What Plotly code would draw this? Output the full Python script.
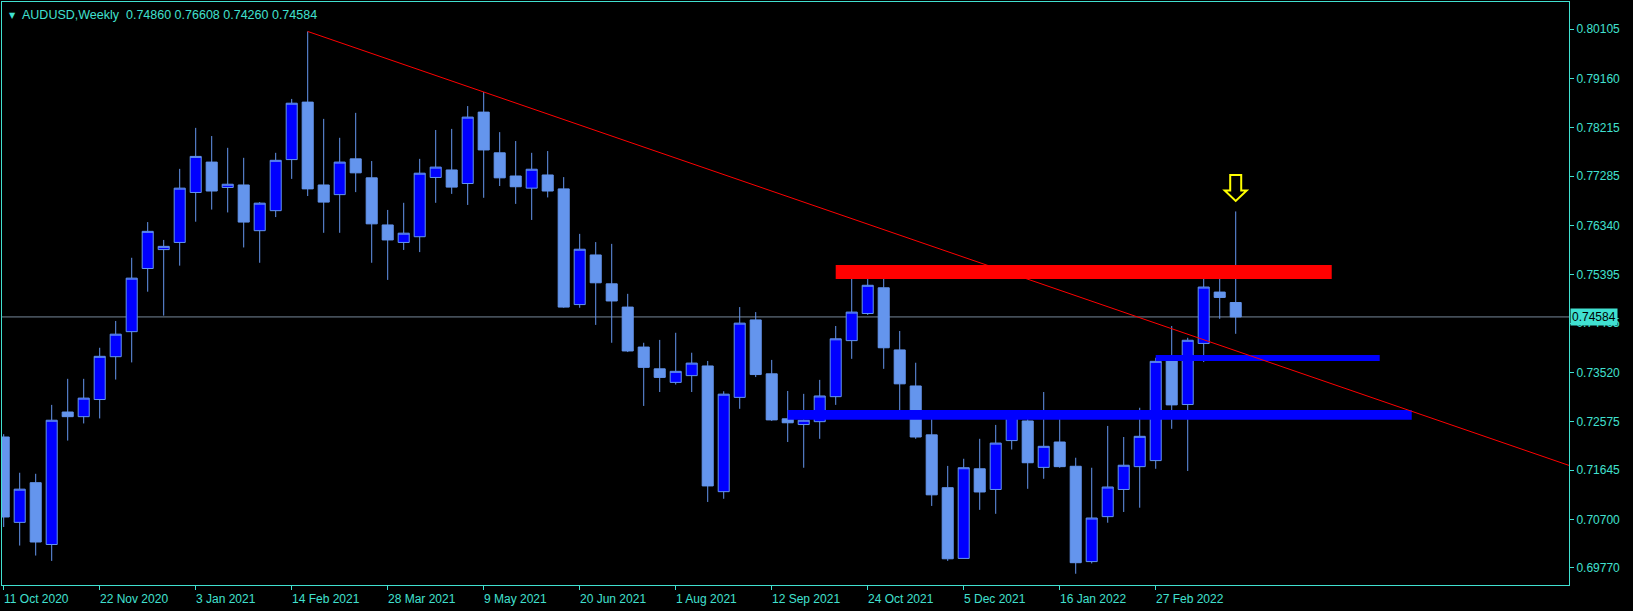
import pandas as pd
import plotly.graph_objects as go

# ---------------- data ----------------
start_date = "2020-10-11"
n_weeks = 78
dates = pd.date_range(start_date, periods=n_weeks, freq="7D")

opens = [
    0.72280, 0.70642, 0.71403, 0.70217, 0.72759, 0.72670, 0.72999, 0.73821, 0.74301, 0.75513,
    0.75876, 0.76013, 0.76972, 0.77555, 0.77068, 0.77116, 0.76239, 0.76623, 0.77603, 0.78706,
    0.77116, 0.76931, 0.77617, 0.77253, 0.76349, 0.76013, 0.76123, 0.77260, 0.77404, 0.77144,
    0.78514, 0.77733, 0.77288, 0.77055, 0.77308, 0.77041, 0.74821, 0.75773, 0.75219, 0.74773,
    0.74006, 0.73588, 0.73328, 0.73458, 0.73643, 0.71231, 0.73040, 0.74527, 0.73492, 0.72629,
    0.72519, 0.72574, 0.73054, 0.74129, 0.74650, 0.75143, 0.73951, 0.73259, 0.72321, 0.71307,
    0.69950, 0.71670, 0.71273, 0.72211, 0.72588, 0.71697, 0.72184, 0.71718, 0.69889, 0.70752,
    0.71273, 0.71711, 0.71827, 0.73759, 0.72903, 0.74075, 0.75061, 0.74860]

highs = [
    0.72334, 0.71594, 0.71574, 0.72896, 0.73396, 0.73396, 0.73992, 0.74506, 0.75719, 0.76404,
    0.76061, 0.77425, 0.78212, 0.78055, 0.77829, 0.77637, 0.76787, 0.77733, 0.78767, 0.80062,
    0.78384, 0.78021, 0.78500, 0.77575, 0.76637, 0.76774, 0.77617, 0.78171, 0.78192, 0.78630,
    0.78900, 0.78130, 0.77959, 0.77733, 0.77767, 0.77267, 0.76178, 0.76020, 0.75986, 0.75027,
    0.74088, 0.74143, 0.74280, 0.73897, 0.73739, 0.73157, 0.74773, 0.74677, 0.73759, 0.73163,
    0.73108, 0.73376, 0.74410, 0.75465, 0.75561, 0.75369, 0.74314, 0.73705, 0.72745, 0.71725,
    0.71862, 0.72245, 0.72512, 0.72780, 0.72780, 0.73143, 0.72759, 0.71882, 0.71690, 0.72492,
    0.72280, 0.72841, 0.73800, 0.74410, 0.74184, 0.75369, 0.75410, 0.76608]

lows = [
    0.70553, 0.70197, 0.70005, 0.69902, 0.72211, 0.72540, 0.72636, 0.73382, 0.73711, 0.75068,
    0.74609, 0.75568, 0.76411, 0.76644, 0.76589, 0.75917, 0.75623, 0.76500, 0.77233, 0.76904,
    0.76198, 0.76198, 0.76979, 0.75623, 0.75294, 0.75869, 0.75828, 0.76774, 0.76945, 0.76733,
    0.76870, 0.77096, 0.76753, 0.76445, 0.76877, 0.74760, 0.74760, 0.74431, 0.74088, 0.73910,
    0.72876, 0.73143, 0.73287, 0.73143, 0.71033, 0.71095, 0.72821, 0.73430, 0.72588, 0.72184,
    0.71690, 0.72245, 0.72896, 0.73780, 0.74622, 0.73588, 0.72745, 0.72245, 0.70957, 0.69902,
    0.69950, 0.70882, 0.70806, 0.72040, 0.71286, 0.71478, 0.71690, 0.69656, 0.69854, 0.70635,
    0.70841, 0.70923, 0.71670, 0.72437, 0.71628, 0.73718, 0.74547, 0.74260]

closes = [
    0.70745, 0.71279, 0.70265, 0.72602, 0.72670, 0.73026, 0.73828, 0.74253, 0.75328, 0.76226,
    0.75938, 0.77055, 0.77664, 0.77000, 0.77130, 0.76404, 0.76767, 0.77589, 0.78685, 0.77041,
    0.76787, 0.77555, 0.77349, 0.76370, 0.76061, 0.76191, 0.77342, 0.77459, 0.77075, 0.78418,
    0.77788, 0.77253, 0.77082, 0.77418, 0.77000, 0.74773, 0.75883, 0.75239, 0.74890, 0.73931,
    0.73616, 0.73424, 0.73540, 0.73698, 0.71341, 0.73102, 0.74465, 0.73478, 0.72608, 0.72553,
    0.72602, 0.73067, 0.74164, 0.74677, 0.75191, 0.73992, 0.73300, 0.72280, 0.71170, 0.69943,
    0.71690, 0.71225, 0.72163, 0.72698, 0.71786, 0.72101, 0.71711, 0.69868, 0.70725, 0.71320,
    0.71738, 0.72293, 0.73732, 0.72896, 0.74136, 0.75157, 0.74958, 0.74584]

price_ticks = [0.80105, 0.79160, 0.78215, 0.77285, 0.76340, 0.75395, 0.74465,
               0.73520, 0.72575, 0.71645, 0.70700, 0.69770]

date_ticks = ["2020-10-11", "2020-11-22", "2021-01-03", "2021-02-14", "2021-03-28",
              "2021-05-09", "2021-06-20", "2021-08-01", "2021-09-12", "2021-10-24",
              "2021-12-05", "2022-01-16", "2022-02-27"]

# zones drawn on the chart: (start, end, low price, high price)
red_zone = ("2021-10-10", "2022-05-15", 0.75313, 0.75582)
blue_zone_upper = ("2022-02-27", "2022-06-05", 0.73740, 0.73855)
blue_zone_lower = ("2021-09-19", "2022-06-19", 0.72609, 0.72800)

# trendline anchored on two swing highs
trend_anchor_idx = [19, 30]

symbol = "AUDUSD"
timeframe = "Weekly"

# ---------------- style ----------------
BG = "#000000"
FG = "#40E0D0"
BULL_FILL = "#0000FF"
BEAR_FILL = "#6495ED"
WICK = "#6495ED"
FONT = "Liberation Sans, Arial, sans-serif"

t0 = pd.Timestamp(start_date)
x_min = t0 - pd.Timedelta(days=0.106 * 7)
x_max = t0 + pd.Timedelta(days=97.83 * 7)
y_min, y_max = 0.69440, 0.80627

fig = go.Figure()
fig.add_trace(go.Candlestick(
    x=dates, open=opens, high=highs, low=lows, close=closes,
    increasing=dict(fillcolor=BULL_FILL, line=dict(color=WICK, width=1)),
    decreasing=dict(fillcolor=BEAR_FILL, line=dict(color=WICK, width=1)),
    whiskerwidth=0, hoverinfo="skip", showlegend=False,
))

shapes = []
# zones
for (zs, ze, zl, zh), col in [(blue_zone_lower, "#0000FF"), (blue_zone_upper, "#0000FF"),
                              (red_zone, "#FF0000")]:
    shapes.append(dict(type="rect", xref="x", yref="y", x0=zs, x1=ze, y0=zl, y1=zh,
                       fillcolor=col, line=dict(width=0), layer="above"))

# trendline (ray to the right edge)
ia, ib = trend_anchor_idx
ta, tb = dates[ia], dates[ib]
pa, pb = highs[ia], highs[ib]
slope = (pb - pa) / ((tb - ta).total_seconds())
p_end = pa + slope * (x_max - ta).total_seconds()
shapes.append(dict(type="line", xref="x", yref="y", x0=ta, y0=pa, x1=x_max, y1=p_end,
                   line=dict(color="#FF0000", width=1), layer="above"))

# current price line
shapes.append(dict(type="line", xref="paper", yref="y", x0=0, x1=1,
                   y0=closes[-1], y1=closes[-1],
                   line=dict(color="#778899", width=1), layer="below"))

# yellow hollow down-arrow above the last candle
shapes.append(dict(type="path", xref="x", yref="y", xsizemode="pixel", ysizemode="pixel",
                   xanchor=dates[-1], yanchor=highs[-1],
                   path="M -5.5 36.5 L 5.5 36.5 L 5.5 21 L 11 21 L 0 10.5 L -11 21 L -5.5 21 Z",
                   line=dict(color="#FFFF00", width=2), fillcolor="rgba(0,0,0,0)",
                   layer="above"))

annotations = []
# header
annotations.append(dict(xref="paper", yref="paper", x=0, y=1, xanchor="left", yanchor="top",
                        xshift=5, yshift=-7, text="\u25BC", showarrow=False,
                        font=dict(family="DejaVu Sans", size=8, color=FG)))
annotations.append(dict(
    xref="paper", yref="paper", x=0, y=1, xanchor="left", yanchor="top",
    xshift=18, yshift=-4, showarrow=False,
    text=f"{symbol},{timeframe}\u00a0\u00a0{opens[-1]:.5f} {highs[-1]:.5f} {lows[-1]:.5f} {closes[-1]:.5f}",
    font=dict(family=FONT, size=12.5, color=FG)))

# date labels (left-aligned to tick marks)
for d in date_ticks:
    dt = pd.Timestamp(d)
    annotations.append(dict(xref="x", yref="paper", x=dt, y=0, xanchor="left", yanchor="top",
                            xshift=-2, yshift=-5, showarrow=False,
                            text=f"{dt.day} {dt.strftime('%b %Y')}",
                            font=dict(family=FONT, size=12, color=FG)))

# current price tag
annotations.append(dict(xref="paper", yref="y", x=1, y=closes[-1], xanchor="left",
                        yanchor="middle", xshift=1, showarrow=False,
                        text=f"{closes[-1]:.5f}", bgcolor=FG, borderpad=1,
                        font=dict(family=FONT, size=12, color="#000000")))

fig.update_layout(
    width=1633, height=611,
    paper_bgcolor=BG, plot_bgcolor=BG,
    margin=dict(l=2, r=64, t=2, b=26),
    shapes=shapes, annotations=annotations,
    showlegend=False,
    boxgap=0.0, boxgroupgap=0.31,
    xaxis=dict(type="date", range=[x_min, x_max], rangeslider=dict(visible=False),
               showgrid=False, zeroline=False, showline=True, mirror=True,
               linecolor=FG, linewidth=1, tickvals=[pd.Timestamp(d) for d in date_ticks],
               ticks="outside", ticklen=4, tickcolor=FG, showticklabels=False),
    yaxis=dict(side="right", range=[y_min, y_max], showgrid=False, zeroline=False,
               showline=True, mirror=True, linecolor=FG, linewidth=1,
               tickvals=price_ticks, ticktext=[f"{v:.5f}" for v in price_ticks],
               ticks="outside", ticklen=4, tickcolor=FG,
               tickfont=dict(family=FONT, size=12, color=FG)),
)

fig.write_html(
    "out.html",
    config={"displayModeBar": False},
    post_script="document.body.style.margin='0';document.body.style.background='#000';",
)
